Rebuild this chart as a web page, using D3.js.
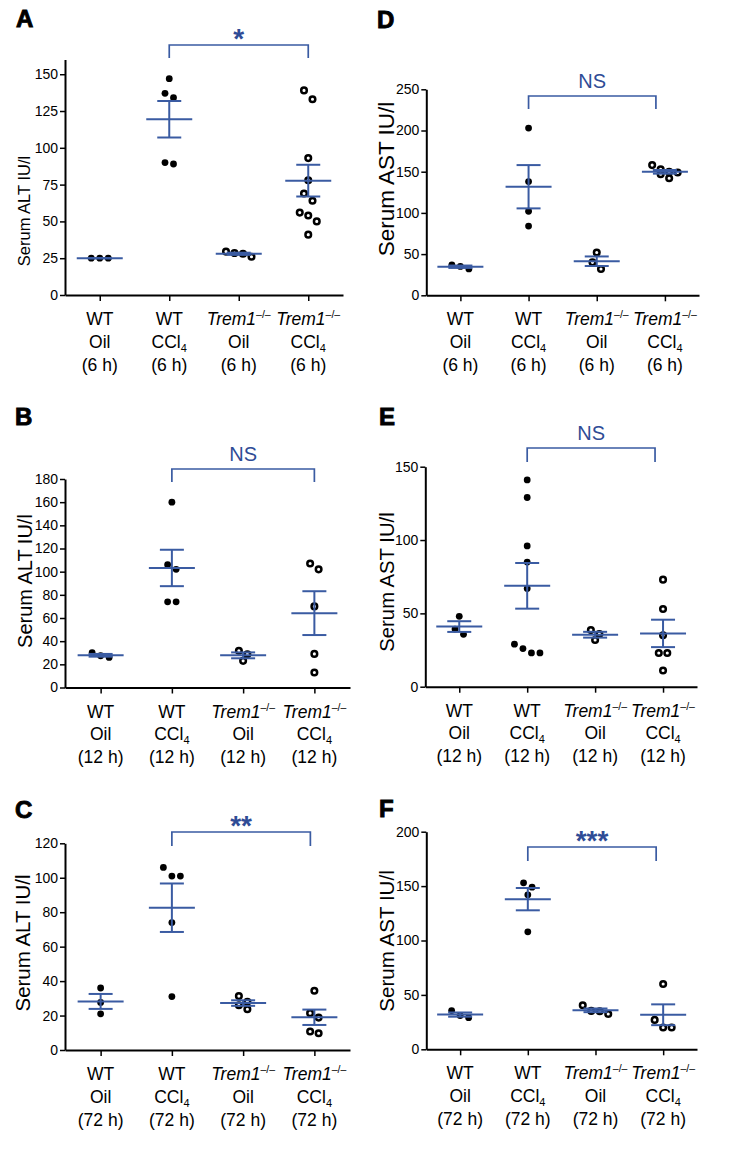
<!DOCTYPE html>
<html>
<head>
<meta charset="utf-8">
<script src="https://cdn.jsdelivr.net/npm/d3@7"></script>
<style>
  body { margin: 0; background: #fff; }
  svg text { font-family: "Liberation Sans", Arial, Helvetica, sans-serif; fill: #000; }
  .tick text { font-family: "Liberation Sans Narrow", "Arial Narrow", "Liberation Sans", sans-serif; font-size: 14px; }
</style>
</head>
<body>
<div id="chart"></div>
<script>
// serum transaminases (IU/l)
const genotypes  = ['WT', 'WT', 'Trem1', 'Trem1'];
const treatments = ['Oil', 'CCl4', 'Oil', 'CCl4'];
const hours      = ['6 h', '12 h', '72 h'];

// groups: WT Oil, WT CCl4, Trem1-/- Oil, Trem1-/- CCl4
const alt6h  = [[25, 25, 25], [147, 137, 134, 90, 89], [29.5, 28, 26, 28.5], [139, 133, 93, 78, 69, 64, 56, 54, 50, 41]];
const alt12h = [[30, 26, 27.4], [160, 106, 102, 74, 74], [31.7, 28.6, 23], [107, 102, 70, 29, 13]];
const alt72h = [[36, 27.6, 21], [106, 101, 101, 74, 31], [31.3, 28, 26, 23.7], [34.4, 21.4, 18.8, 10.7, 9.7]];
const ast6h  = [[37, 32, 35], [203, 138, 102, 84], [52, 40, 32], [158, 153, 150, 149, 147, 142]];
const ast12h = [[48, 39.3, 35.7], [141, 129, 96, 85, 67, 29, 26, 23, 23], [38.6, 35.9, 31.8], [73, 53, 35, 23, 23, 11]];
const ast72h = [[35.6, 29.1, 31], [153, 149, 142, 108], [40.5, 35.3, 35, 32.5], [60, 27, 20, 20]];

const altTicks6h  = [0, 25, 50, 75, 100, 125, 150];
const altTicks12h = [0, 20, 40, 60, 80, 100, 120, 140, 160, 180];
const altTicks72h = [0, 20, 40, 60, 80, 100, 120];
const astTicks6h  = [0, 50, 100, 150, 200, 250];
const astTicks12h = [0, 50, 100, 150];
const astTicks72h = [0, 50, 100, 150, 200];

// WT CCl4 vs Trem1-/- CCl4
const sigLabels = ['*', 'NS', '**', 'NS', 'NS', '***'];

const panels = [
  { id: 'A', enzyme: 'ALT', time: 0, values: alt6h,  ticks: altTicks6h,  yMax: 160 },
  { id: 'B', enzyme: 'ALT', time: 1, values: alt12h, ticks: altTicks12h, yMax: 180 },
  { id: 'C', enzyme: 'ALT', time: 2, values: alt72h, ticks: altTicks72h, yMax: 120 },
  { id: 'D', enzyme: 'AST', time: 0, values: ast6h,  ticks: astTicks6h,  yMax: 250 },
  { id: 'E', enzyme: 'AST', time: 1, values: ast12h, ticks: astTicks12h, yMax: 150 },
  { id: 'F', enzyme: 'AST', time: 2, values: ast72h, ticks: astTicks72h, yMax: 200 }
];

// where each panel sits on the page
const layout = {
  A: { x0: 65,    x1: 343, y0: 295,    yTop: 59.5,  letter: [16, 27],   title: [30, 211, 16.5],  br: [45, 13, 0] },
  B: { x0: 65,    x1: 350, y0: 687.5,  yTop: 479,   letter: [15, 425],  title: [32, 581, 20],    br: [469, 13, 0] },
  C: { x0: 65,    x1: 350, y0: 1050,   yTop: 843.3, letter: [15, 818],  title: [30, 943, 20.5],  br: [832, 14, -4] },
  D: { x0: 426.3, x1: 699, y0: 295.3,  yTop: 89.3,  letter: [377, 28],  title: [394, 179, 22.5], br: [96, 13, -9] },
  E: { x0: 425.3, x1: 697, y0: 686.7,  yTop: 466.7, letter: [379, 425], title: [394, 582, 20.3], br: [448, 14, -8] },
  F: { x0: 426.3, x1: 697, y0: 1049.3, yTop: 831.7, letter: [379, 817], title: [394, 941, 20.6], br: [847, 14, -7] }
};

const blue = '#3a5ba2', blueText = '#2f4c96';

const W = 734, H = 1163;
const svg = d3.select('#chart').append('svg')
  .attr('width', W).attr('height', H)
  .style('background', '#fff');

// Prism-like scatter: dots within one row band are spread symmetrically
function swarm(vals, y, spacing, band) {
  const pts = vals.map(v => ({ v, py: y(v) })).sort((a, b) => a.py - b.py);
  const out = [];
  let row = [];
  const flush = () => row.forEach((d, i) => { d.dx = (i - (row.length - 1) / 2) * spacing; out.push(d); });
  pts.forEach(d => {
    if (row.length && d.py - row[0].py > band) { flush(); row = []; }
    row.push(d);
  });
  flush();
  return out;
}

panels.forEach((p, pi) => {
  const L = layout[p.id];
  const g = svg.append('g');

  const x = d3.scalePoint().domain([0, 1, 2, 3]).range([L.x0, L.x1]).padding(0.5);
  const y = d3.scaleLinear().domain([0, p.yMax]).range([L.y0, L.yTop]);

  // y axis
  const ya = g.append('g')
    .attr('transform', `translate(${L.x0},0)`)
    .call(d3.axisLeft(y).tickValues(p.ticks).tickSize(5).tickSizeOuter(0).tickPadding(2).tickFormat(d3.format('d')));
  ya.select('.domain').attr('stroke-width', 2);
  ya.selectAll('.tick line').attr('stroke-width', 1.5);
  ya.selectAll('.tick text').attr('font-size', null);

  // x axis
  const xa = g.append('g')
    .attr('transform', `translate(0,${L.y0})`)
    .call(d3.axisBottom(x).tickSize(6).tickSizeOuter(0).tickFormat(''));
  xa.select('.domain').attr('stroke-width', 2);
  xa.selectAll('.tick line').attr('stroke-width', 1.5);

  // category labels, three lines each
  const fs = 17.5;
  [0, 1, 2, 3].forEach(i => {
    const cx = x(i);
    const l1 = g.append('text').attr('x', cx).attr('y', L.y0 + 30)
      .attr('text-anchor', 'middle').attr('font-size', fs);
    if (genotypes[i] === 'WT') {
      l1.text('WT');
    } else {
      l1.append('tspan').attr('font-style', 'italic').text('Trem1');
      l1.append('tspan').attr('font-size', 10.5).attr('dy', -7).text('\u2013/\u2013');
    }
    const l2 = g.append('text').attr('x', cx).attr('y', L.y0 + 52.5)
      .attr('text-anchor', 'middle').attr('font-size', fs);
    if (treatments[i] === 'Oil') {
      l2.text('Oil');
    } else {
      l2.append('tspan').text('CCl');
      l2.append('tspan').attr('font-size', 11).attr('dy', 4).text('4');
    }
    g.append('text').attr('x', cx).attr('y', L.y0 + 75.5)
      .attr('text-anchor', 'middle').attr('font-size', fs)
      .text(`(${hours[p.time]})`);
  });

  // y axis title
  g.append('text')
    .attr('transform', `translate(${L.title[0]},${L.title[1]}) rotate(-90)`)
    .attr('text-anchor', 'middle').attr('font-size', L.title[2])
    .text(`Serum ${p.enzyme} IU/l`);

  // panel letter
  g.append('text').attr('x', L.letter[0]).attr('y', L.letter[1])
    .attr('font-size', 24).attr('font-weight', 'bold')
    .attr('stroke', '#000').attr('stroke-width', 0.9)
    .text(p.id);

  // dots
  p.values.forEach((vals, i) => {
    const open = i >= 2;
    const pts = swarm(vals, y, 8.5, 9);
    g.append('g').selectAll('circle')
      .data(pts).join('circle')
      .attr('cx', d => x(i) + d.dx)
      .attr('cy', d => d.py)
      .attr('r', open ? 2.8 : 3.4)
      .attr('fill', open ? '#fff' : '#000')
      .attr('stroke', open ? '#000' : 'none')
      .attr('stroke-width', 2.5);
  });

  // mean +/- SEM
  p.values.forEach((vals, i) => {
    const m = d3.mean(vals);
    const se = d3.deviation(vals) / Math.sqrt(vals.length);
    const cx = x(i);
    const eg = g.append('g').attr('stroke', blue).attr('stroke-width', 2);
    eg.append('line').attr('x1', cx - 23).attr('x2', cx + 23).attr('y1', y(m)).attr('y2', y(m));
    eg.append('line').attr('x1', cx).attr('x2', cx).attr('y1', y(m + se)).attr('y2', y(m - se));
    [m + se, m - se].forEach(v => {
      eg.append('line').attr('x1', cx - 12).attr('x2', cx + 12).attr('y1', y(v)).attr('y2', y(v));
    });
  });

  // significance bracket
  const [by, drop, rOff] = L.br;
  const bx1 = x(1), bx2 = x(3) + rOff;
  g.append('path')
    .attr('d', `M${bx1},${by + drop}V${by}H${bx2}V${by + drop}`)
    .attr('fill', 'none').attr('stroke', blue).attr('stroke-width', 1.7);
  const sig = sigLabels[pi];
  const isNS = sig === 'NS';
  g.append('text')
    .attr('x', (bx1 + bx2) / 2)
    .attr('y', isNS ? by - 8.5 : by + 3)
    .attr('text-anchor', 'middle')
    .attr('font-size', isNS ? 20 : 28)
    .attr('font-weight', isNS ? 'normal' : 'bold')
    .style('fill', blueText)
    .text(sig);
});
</script>
</body>
</html>
